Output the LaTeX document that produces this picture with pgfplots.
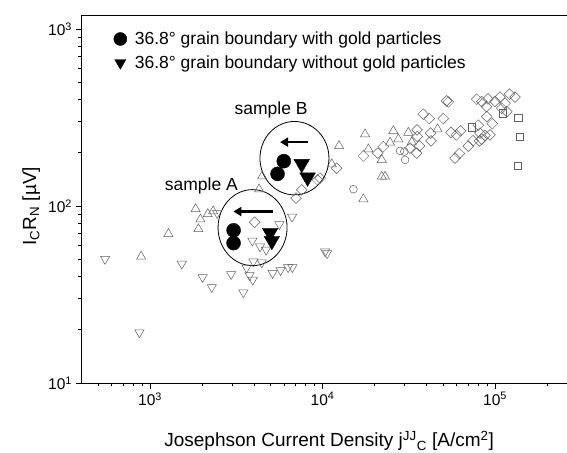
\documentclass[border=0pt]{standalone}
\usepackage{fontspec}
\setmainfont{Liberation Sans}
\usepackage{pgfplots}
\pgfplotsset{compat=1.18}
\usetikzlibrary{arrows.meta}
\definecolor{mk}{RGB}{95,95,95}
\begin{document}
\begin{tikzpicture}
\begin{axis}[
  scale only axis, width=485.5pt, height=368pt,
  xmode=log, ymode=log,
  xmin=400, xmax=261500, ymin=10, ymax=1204,
  axis x line*=box, axis y line*=left,
  xtick pos=left, ytick pos=left,
  tick align=outside,
  major tick length=6pt, minor tick length=3.5pt,
  axis line style={line width=0.9pt},
  every tick/.style={line width=0.8pt, black},
  xtick={1000,10000,100000},
  xticklabels={\mbox{10\textsuperscript{3}},\mbox{10\textsuperscript{4}},\mbox{10\textsuperscript{5}}},
  minor xtick={500,600,700,800,900,2000,3000,4000,5000,6000,7000,8000,9000,20000,30000,40000,50000,60000,70000,80000,90000,200000},
  ytick={10,100,1000},
  yticklabels={\mbox{10\textsuperscript{1}},\mbox{10\textsuperscript{2}},\mbox{10\textsuperscript{3}}},
  minor ytick={20,30,40,50,60,70,80,90,200,300,400,500,600,700,800,900},
  tick label style={font=\fontsize{15.5}{18}\selectfont},
  every axis x label/.style={at={(axis description cs:0.51,0)}, anchor=base, yshift=-64pt, font=\fontsize{19}{23}\selectfont},
  every axis y label/.style={at={(axis description cs:-0.0937,0.48)}, rotate=90, anchor=base, font=\fontsize{19}{23}\selectfont},
  xlabel={Josephson Current Density j\textsuperscript{JJ}\textsubscript{C} [A/cm\textsuperscript{2}]},
  ylabel={I\textsubscript{C}R\textsubscript{N} [µV]},
  legend cell align=left,
  legend image post style={mark size=6.5pt},
  legend style={draw=none, fill=none, at={(axis description cs:0.06,0.9655)}, anchor=north west,
    font=\fontsize{17.5}{21}\selectfont, row sep=5.6pt, column sep=6pt},
]
% open down triangles
\addplot[only marks, forget plot, mark=triangle, mark size=5.3pt, mark options={draw=mk, line width=0.5pt, rotate=180}] coordinates {
(548,50.2) (867,19.3) (1527,47.2) (2015,39.6) (2279,34.8) (2949,41.2) (3474,32.5) (3626,44.8) (3774,40.6) (3939,38.3) (3970,48.6) (4440,48.0) (5130,41.8) (5708,43.4) (6310,45.1) (6681,45.1) (3917,63.7) (4341,59.1) (4704,56.6) (5618,78.9) (6655,87.0) (10340,55.4) (10620,54.1) (2446,91.3)
};
% open up triangles
\addplot[only marks, forget plot, mark=triangle, mark size=5.3pt, mark options={draw=mk, line width=0.5pt}] coordinates {
(887,51.9) (1277,69.7) (1905,74.2) (1957,84.2) (1835,96.3) (2160,90.2) (2318,93.5) (4284,124.7) (4460,147.4) (12460,219) (17640,255) (18440,209.9) (22040,182.6) (24620,228.7) (25730,266.3) (27500,239) (31430,260.4) (32890,229.9) (46420,272.3) (17240,109.5) (22040,147.0) (23030,147.0) (11310,172.7)
};
% open diamonds
\addplot[only marks, forget plot, mark=square, mark size=3.8pt, mark options={draw=mk, line width=0.5pt, rotate=45}] coordinates {
(4035,81.0) (7020,111.0) (7574,123.6) (9354,140.8) (12060,163.6) (9672,143.9) (17240,192.4) (20890,199.3) (22520,217) (32150,212.7) (35300,269.9) (35450,247.4) (36500,219) (35160,199.3) (38390,331) (41600,312.6) (42560,233.8) (42280,258.5) (50150,312.6) (53620,388.4) (52340,393.4) (55590,261.1) (59670,252.8) (63100,266.3) (58640,186.7) (62090,198.2) (70010,218.3) (74580,234.4) (80010,286.9) (81840,258.5) (83730,239) (87500,251.2) (81320,233.8) (93550,252.8) (78320,402.2) (83730,389.9) (89250,365.4) (91080,403.8) (100000,390.9) (106900,413.4) (114300,381.9) (121400,429.8) (130600,413.4) (116900,342.3) (89490,320.8) (96450,292.5) (109300,357.9)
};
% open circles
\addplot[only marks, forget plot, mark=o, mark size=3.9pt, mark options={draw=mk, line width=0.5pt}] coordinates {
(15090,124.7) (28130,205.3) (29810,203.5) (30090,182.6)
};
% open squares
\addplot[only marks, forget plot, mark=square, mark size=3.7pt, mark options={draw=mk, line width=0.5pt}] coordinates {
(73590,279.5) (110500,335.3) (136500,316.7) (139600,247.4) (135000,169.6)
};
% annotations
\draw[line width=0.8pt] (axis cs:6871,186.7) ellipse [x radius=34.5pt, y radius=36.7pt];
\draw[line width=0.8pt] (axis cs:3927,75.6) ellipse [x radius=34.5pt, y radius=38pt];
\draw[line width=2.2pt, -{Triangle[length=8pt, width=9pt]}] (axis cs:8275,229.9) -- (axis cs:5670,229.9);
\draw[line width=2.2pt, -{Triangle[length=8pt, width=9pt]}] (axis cs:5164,93.2) -- (axis cs:3040,93.2);
\node[anchor=base, font=\fontsize{17.5}{21}\selectfont] at (axis cs:5028,328) {sample B};
\node[anchor=base, font=\fontsize{17.5}{21}\selectfont] at (axis cs:1983,122.9) {sample A};
% filled
\addplot[only marks, mark=*, mark size=7pt, black] coordinates {
(5960,179.6) (5483,152.2) (3048,73.0) (3047,61.8)
};
\addlegendentry{36.8° grain boundary with gold particles}
\addplot[only marks, mark=triangle*, mark size=9pt, black, mark options={rotate=180}] coordinates {
(7569,173.4) (8185,145.3) (4963,70.7) (5080,63.7)
};
\addlegendentry{36.8° grain boundary without gold particles}
\coordinate (ll) at (rel axis cs:0,0);
\coordinate (ur) at (rel axis cs:1,1);
\end{axis}
\pgfresetboundingbox
\path[use as bounding box] ([xshift=-81.5pt,yshift=-69pt]ll) rectangle ([yshift=15pt]ur);
\end{tikzpicture}
\end{document}
